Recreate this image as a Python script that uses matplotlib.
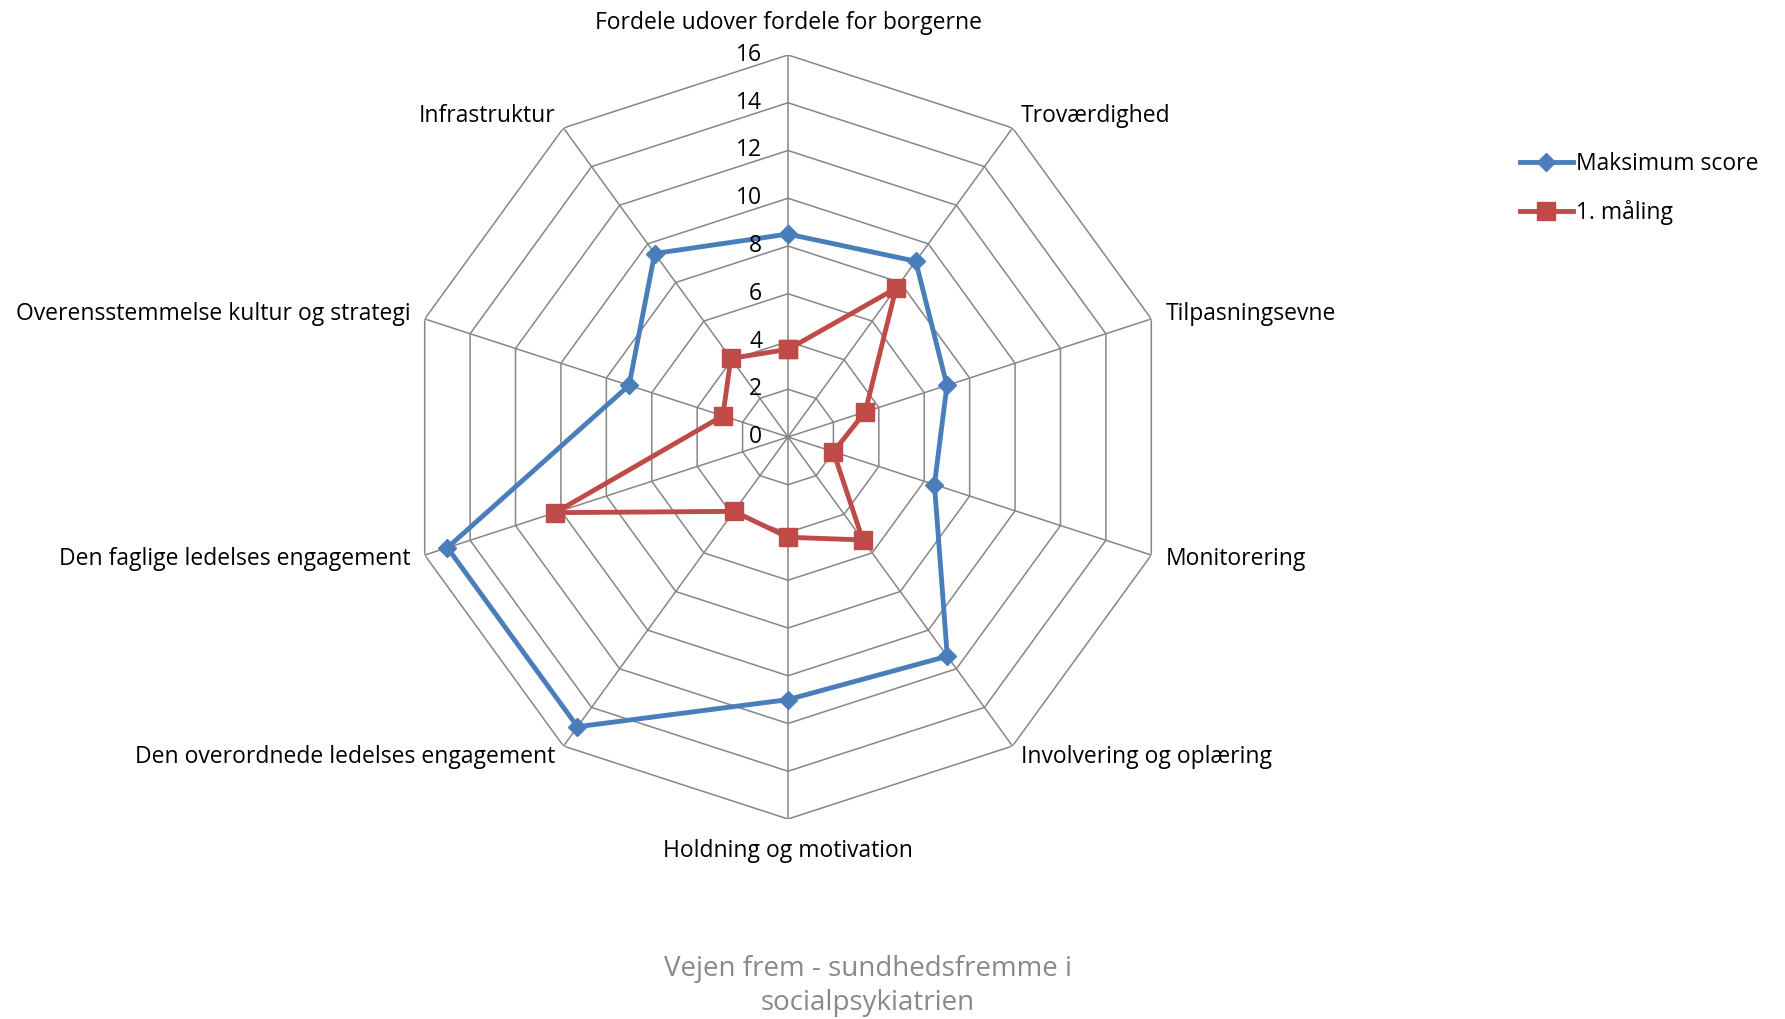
import numpy as np
import matplotlib
matplotlib.use("Agg")
import matplotlib.pyplot as plt

categories = [
    "Fordele udover fordele for borgerne",
    "Troværdighed",
    "Tilpasningsevne",
    "Monitorering",
    "Involvering og oplæring",
    "Holdning og motivation",
    "Den overordnede ledelses engagement",
    "Den faglige ledelses engagement",
    "Overensstemmelse kultur og strategi",
    "Infrastruktur",
]
maks_score = [8.5, 9.1, 7.0, 6.45, 11.35, 11.0, 15.0, 15.0, 7.0, 9.5]
maaling_1 = [3.67, 7.7, 3.4, 2.0, 5.33, 4.2, 3.85, 10.25, 2.87, 4.07]
ticks = [0, 2, 4, 6, 8, 10, 12, 14, 16]
series_names = ["Maksimum score", "1. måling"]
subtitle = "Vejen frem - sundhedsfremme i\nsocialpsykiatrien"

FONT = ["Open Sans", "DejaVu Sans"]
plt.rcParams["font.family"] = FONT

W, H = 1785, 1019
fig = plt.figure(figsize=(W / 100, H / 100), dpi=100)
cx, cy, R = 788, 437, 382
ax = fig.add_axes([(cx - R) / W, (H - cy - R) / H, 2 * R / W, 2 * R / H], projection="polar")
ax.set_theta_offset(np.pi / 2)
ax.set_theta_direction(-1)
ax.set_ylim(0, 16)
ax.grid(False)
ax.spines["polar"].set_visible(False)
ax.set_xticks([])
ax.set_yticks([])
ax.patch.set_alpha(0)

n = len(categories)
theta = np.linspace(0, 2 * np.pi, n, endpoint=False)
theta_c = np.append(theta, theta[0])

gcol = "#868686"
for t in ticks[1:]:
    ax.plot(theta_c, [t] * (n + 1), color=gcol, lw=1.1, zorder=1)
for th in theta:
    ax.plot([th, th], [0, ticks[-1]], color=gcol, lw=1.1, zorder=1)

blue = "#4A7EBB"
red = "#BE4B48"
ax.plot(theta_c, maks_score + maks_score[:1], color=blue, lw=3.5, marker="D",
        ms=9.5, mfc=blue, mec=blue, zorder=3, label=series_names[0], clip_on=False)
ax.plot(theta_c, maaling_1 + maaling_1[:1], color=red, lw=3.5, marker="s",
        ms=13, mfc=red, mec=red, zorder=4, label=series_names[1], clip_on=False)

fs = 16.5
for t in ticks:
    ax.annotate(str(t), xy=(0, t), xytext=(-26, 0), textcoords="offset pixels",
                ha="right", va="center", fontsize=fs, color="black")

offsets = [(0, 32, "center"), (8, 12, "left"), (14, 5, "left"), (14, -4, "left"),
           (8, -11, "left"), (0, -32, "center"), (-8, -11, "right"),
           (-14, -4, "right"), (-14, 5, "right"), (-8, 12, "right")]
for th, lab, (dx, dy, ha) in zip(theta, categories, offsets):
    ax.annotate(lab, xy=(th, 16), xytext=(dx, dy), textcoords="offset pixels",
                ha=ha, va="center", fontsize=fs, color="black", annotation_clip=False)

leg = fig.legend(loc="upper left", bbox_to_anchor=(1520 / W, 1 - 152 / H), frameon=False,
                 fontsize=fs, handlelength=2.3, handletextpad=0.15, labelspacing=1.05,
                 borderaxespad=0, borderpad=0)

fig.text(868 / W, 1 - 986 / H, subtitle, ha="center", va="center", fontsize=20,
         color="#898989", linespacing=1.25)

fig.savefig("out.png", dpi=100)
